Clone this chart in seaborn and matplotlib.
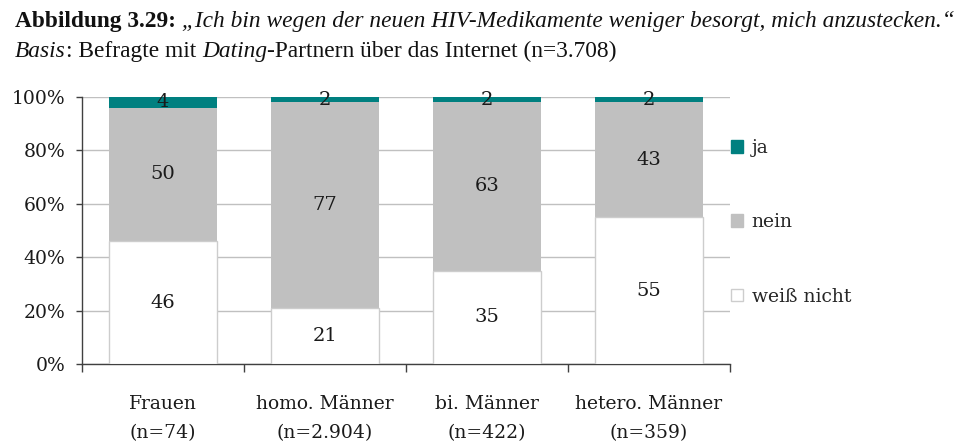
import matplotlib
matplotlib.use("Agg")
import matplotlib.pyplot as plt
from matplotlib.patches import Patch
from matplotlib.transforms import IdentityTransform
import seaborn as sns
import pandas as pd

# Survey answers in percent per group
groups = ["Frauen", "homo. Männer", "bi. Männer", "hetero. Männer"]
group_n = ["(n=74)", "(n=2.904)", "(n=422)", "(n=359)"]
weiss_nicht = [46, 21, 35, 55]
nein = [50, 77, 63, 43]
ja = [4, 2, 2, 2]
y_ticks = [0, 20, 40, 60, 80, 100]

TEAL = "#008080"
GREY = "#c0c0c0"
EDGE = "#cdcdcd"
AXIS = "#404040"

sns.set_theme(style="white")
plt.rcParams["font.family"] = ["DejaVu Serif", "DejaVu Sans"]

W, H = 968, 445
fig = plt.figure(figsize=(W / 100, H / 100), dpi=100)
ax = fig.add_axes([82 / W, 1 - 364 / H, (730 - 82) / W, (364 - 97) / H])

df = pd.DataFrame({
    "gruppe": groups,
    "weiß nicht": weiss_nicht,
    "nein": nein,
    "ja": ja,
})
df["bis_nein"] = df["weiß nicht"] + df["nein"]
df["bis_ja"] = df["bis_nein"] + df["ja"]

bar_w = 0.665
common = dict(data=df, x="gruppe", width=bar_w, saturation=1, errorbar=None, ax=ax, zorder=3)
sns.barplot(y="bis_ja", color=TEAL, edgecolor=TEAL, linewidth=0, **common)
sns.barplot(y="bis_nein", color=GREY, edgecolor=GREY, linewidth=0, **common)
sns.barplot(y="weiß nicht", color="white", edgecolor=EDGE, linewidth=1, **common)

# value labels centred in each segment
for i in range(len(groups)):
    w, n, j = weiss_nicht[i], nein[i], ja[i]
    for val, mid in ((w, w / 2), (n, w + n / 2), (j, w + n + j / 2)):
        ax.text(i, mid, f"{val}", ha="center", va="center", fontsize=14,
                color="#1a1a1a", zorder=5)

ax.set_xlim(-0.5, len(groups) - 0.5)
ax.set_ylim(0, 100)
ax.set_xlabel("")
ax.set_ylabel("")

ax.set_yticks(y_ticks)
ax.set_yticklabels([f"{t}%" for t in y_ticks], fontsize=13.5, color="#1a1a1a")
ax.yaxis.grid(True, color=GREY, linewidth=1, zorder=0)
ax.set_axisbelow(True)

# category boundaries carry the tick marks, names sit between them
ax.set_xticks([k - 0.5 for k in range(len(groups) + 1)])
ax.set_xticklabels([])
ax.set_xticks(range(len(groups)), minor=True)
ax.set_xticklabels([f"{g}\n{n}" for g, n in zip(groups, group_n)], minor=True,
                   fontsize=13.5, color="#1a1a1a", linespacing=1.8)
ax.tick_params(axis="x", which="major", direction="out", length=6, width=1,
               color=AXIS, bottom=True)
ax.tick_params(axis="x", which="minor", length=0, pad=22)
ax.tick_params(axis="y", direction="out", length=4, width=1, color=AXIS,
               left=True, pad=8)

for side in ("top", "right"):
    ax.spines[side].set_visible(False)
for side in ("left", "bottom"):
    ax.spines[side].set_color(AXIS)
    ax.spines[side].set_linewidth(1)

handles = [
    Patch(facecolor=TEAL, edgecolor=TEAL, label="ja"),
    Patch(facecolor=GREY, edgecolor=GREY, label="nein"),
    Patch(facecolor="white", edgecolor=EDGE, label="weiß nicht"),
]
fig.legend(handles=handles, loc="upper left",
           bbox_to_anchor=(731 / W, 1 - 139 / H), frameon=False,
           fontsize=13.5, handlelength=0.65, handleheight=0.65,
           handletextpad=0.45, labelspacing=3.0, borderpad=0,
           borderaxespad=0)

# heading lines built from runs of differently styled text
title_font = ["Liberation Serif", "DejaVu Serif"]
renderer = fig.canvas.get_renderer()


def draw_runs(x, y, runs, size):
    for txt, style in runs:
        t = fig.text(x, y, txt, transform=IdentityTransform(), fontsize=size,
                     family=title_font, va="baseline", ha="left",
                     color="#111111", **style)
        x = t.get_window_extent(renderer).x1


line1 = [
    ("Abbildung 3.29:", dict(fontweight="bold")),
    (" \u201eIch bin wegen der neuen HIV-Medikamente weniger besorgt, mich anzustecken.\u201c",
     dict(fontstyle="italic")),
]
line2 = [
    ("Basis", dict(fontstyle="italic")),
    (": Befragte mit ", dict()),
    ("Dating", dict(fontstyle="italic")),
    ("-Partnern über das Internet (n=3.708)", dict()),
]
draw_runs(15, H - 27, line1, 16.8)
draw_runs(15, H - 57, line2, 16.8)

fig.savefig("out.png", dpi=100, facecolor="white")
